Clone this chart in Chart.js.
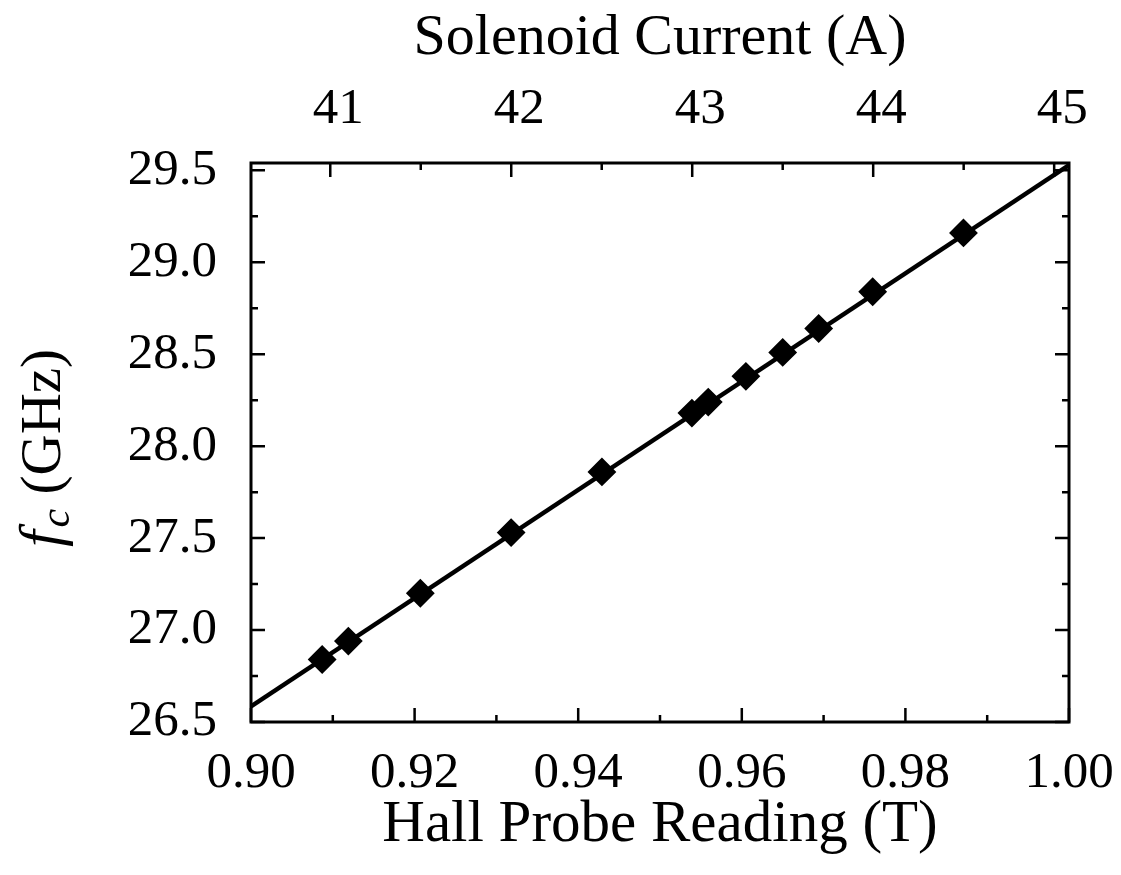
<!DOCTYPE html>
<html>
<head>
<meta charset="utf-8">
<script src="https://cdn.jsdelivr.net/npm/chart.js@4"></script>
<style>
  html, body { margin: 0; padding: 0; background: #fff; }
  #plot { display: block; }
</style>
</head>
<body>
<canvas id="plot" width="1121" height="875"></canvas>
<script>
// measured points: Hall probe field (T) vs cyclotron frequency (GHz)
const hallField = [0.9087, 0.9119, 0.9207, 0.9318, 0.9429, 0.9539, 0.9559, 0.9605, 0.9650, 0.9694, 0.9760, 0.9871];
const freqGHz = [26.84, 26.94, 27.20, 27.53, 27.86, 28.18, 28.24, 28.38, 28.51, 28.64, 28.84, 29.16];

// linear fit, end points at the frame edges
const fitField = [0.90, 1.00];
const fitFreq = [26.585, 29.529];

// axis ranges
const fieldRange = [0.90, 1.00];
const freqRange = [26.5, 29.54];
const currentRange = [40.562, 45.082];
const currentTicks = [41, 42, 43, 44, 45];

const FONT = "'Liberation Serif', 'Times New Roman', serif";

// frame + inward ticks on all four sides
const framePlugin = {
	id: "frame",
	afterDraw(chart) {
		const ctx = chart.ctx;
		const a = chart.chartArea;
		const x = chart.scales.x;
		const y = chart.scales.y;
		const top = chart.scales.xTop;
		ctx.save();
		ctx.strokeStyle = "#000";
		ctx.lineWidth = 2.5;

		ctx.beginPath();
		for (let i = 0; i <= 10; i++) {
			const v = fieldRange[0] + i * 0.01;
			const px = x.getPixelForValue(v);
			const len = i % 2 == 0 ? 14 : 7;
			ctx.moveTo(px, a.bottom);
			ctx.lineTo(px, a.bottom - len);
		}
		for (let i = 0; i <= 12; i++) {
			const v = freqRange[0] + i * 0.25;
			if (v > freqRange[1]) break;
			const py = y.getPixelForValue(v);
			const len = i % 2 == 0 ? 14 : 7;
			ctx.moveTo(a.left, py);
			ctx.lineTo(a.left + len, py);
			ctx.moveTo(a.right, py);
			ctx.lineTo(a.right - len, py);
		}
		for (let i = 0; i <= 8; i++) {
			const v = currentTicks[0] + i * 0.5;
			const px = top.getPixelForValue(v);
			const len = i % 2 == 0 ? 14 : 7;
			ctx.moveTo(px, a.top);
			ctx.lineTo(px, a.top + len);
		}
		ctx.stroke();

		ctx.lineWidth = 3;
		ctx.strokeRect(a.left, a.top, a.right - a.left, a.bottom - a.top);

		// y title: f_c (GHz)
		ctx.translate(42, 448);
		ctx.rotate(-Math.PI / 2);
		ctx.fillStyle = "#000";
		ctx.textBaseline = "alphabetic";
		const fFont = "italic 60px " + FONT;
		const cFont = "italic 42px " + FONT;
		const rFont = "57px " + FONT;
		ctx.font = fFont;
		const wf = ctx.measureText("f").width;
		ctx.font = cFont;
		const wc = ctx.measureText("c").width;
		ctx.font = rFont;
		const wr = ctx.measureText(" (GHz)").width;
		const total = wf + 3 + wc + wr;
		let cx = -total / 2;
		const base = 18;
		ctx.font = fFont;
		ctx.fillText("f", cx, base);
		cx += wf + 3;
		ctx.font = cFont;
		ctx.fillText("c", cx, base + 9);
		cx += wc;
		ctx.font = rFont;
		ctx.fillText(" (GHz)", cx, base);
		ctx.restore();
	},
};

new Chart(document.getElementById("plot"), {
	type: "scatter",
	data: {
		datasets: [
			{
				type: "line",
				data: fitField.map((v, i) => ({ x: v, y: fitFreq[i] })),
				borderColor: "#000",
				borderWidth: 4.5,
				pointRadius: 0,
				fill: false,
				order: 2,
			},
			{
				data: hallField.map((v, i) => ({ x: v, y: freqGHz[i] })),
				pointStyle: "rectRot",
				pointRadius: 13,
				pointBorderWidth: 2,
				backgroundColor: "#000",
				borderColor: "#000",
				order: 1,
			},
		],
	},
	options: {
		responsive: false,
		animation: false,
		devicePixelRatio: 1,
		layout: { padding: { left: 0, right: 52, top: 0, bottom: 0 } },
		plugins: {
			legend: { display: false },
			tooltip: { enabled: false },
		},
		scales: {
			x: {
				type: "linear",
				position: "bottom",
				min: fieldRange[0],
				max: fieldRange[1],
				afterFit: (s) => { s.height = 153; },
				// tick marks are drawn by the frame plugin; tickLength only pushes the labels down
				grid: { display: false, drawTicks: true, tickLength: 21 },
				border: { display: false },
				ticks: {
					stepSize: 0.02,
					includeBounds: false,
					padding: 0,
					color: "#000",
					font: { family: FONT, size: 51 },
					maxRotation: 0,
					callback: (v) => v.toFixed(2),
				},
				title: {
					display: true,
					text: "Hall Probe Reading (T)",
					color: "#000",
					font: { family: FONT, size: 59 },
					padding: { top: 0, bottom: 14 },
				},
			},
			xTop: {
				type: "linear",
				position: "top",
				min: currentRange[0],
				max: currentRange[1],
				afterFit: (s) => { s.height = 163; },
				grid: { display: false, drawTicks: false },
				border: { display: false },
				afterBuildTicks: (s) => { s.ticks = currentTicks.map((v) => ({ value: v })); },
				ticks: {
					padding: 23,
					labelOffset: 8,
					color: "#000",
					font: { family: FONT, size: 51 },
					maxRotation: 0,
					callback: (v) => String(v),
				},
				title: {
					display: true,
					text: "Solenoid Current (A)",
					color: "#000",
					font: { family: FONT, size: 58 },
					padding: { top: 4, bottom: 0 },
				},
			},
			y: {
				type: "linear",
				position: "left",
				min: freqRange[0],
				max: freqRange[1],
				afterFit: (s) => { s.width = 251; },
				grid: { display: false, drawTicks: false },
				border: { display: false },
				ticks: {
					stepSize: 0.5,
					includeBounds: false,
					padding: 34,
					color: "#000",
					font: { family: FONT, size: 51 },
					callback: (v) => v.toFixed(1),
				},
			},
		},
	},
	plugins: [framePlugin],
});
</script>
</body>
</html>
